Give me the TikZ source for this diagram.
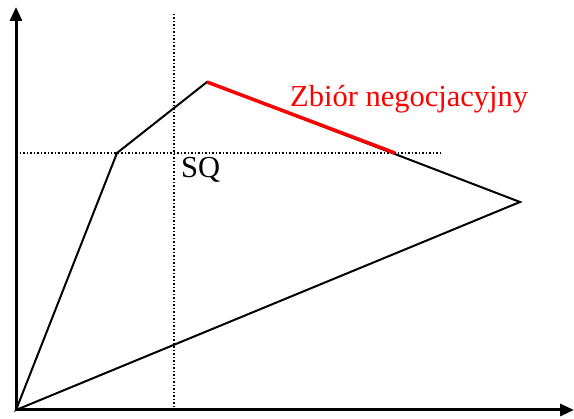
\documentclass[tikz,border=0pt]{standalone}
\usepackage{fontspec}
\setmainfont{Liberation Serif}
\usetikzlibrary{arrows.meta}
\begin{document}
\begin{tikzpicture}[x=1pt,y=-1pt,
  axis/.style={line width=3pt,-{Triangle[length=14pt,width=12pt]}},
  edge/.style={line width=2pt,line join=miter},
  dots/.style={line width=1.5pt,dash pattern=on 1.5pt off 2pt},
  lbl/.style={inner sep=0pt,anchor=base west,font=\fontsize{30.5}{33}\selectfont}]
\useasboundingbox (0,0) rectangle (574,419);
\coordinate (O) at (16,410);
\coordinate (ytop) at (16,7);
\coordinate (xend) at (574,410);
\coordinate (A) at (117,153);
\coordinate (B) at (207,82);
\coordinate (C) at (520,202);
\coordinate (R) at (395,153);
\coordinate (vt) at (174,14);
\coordinate (vb) at (174,410);
\coordinate (hl) at (16,153);
\coordinate (hr) at (441,153);
\draw[dots] (vt) -- (vb);
\draw[dots] (hl) -- (hr);
\draw[edge] (O) -- (A) -- (B) -- (C) -- cycle;
\draw[line width=3.5pt,red] (B) -- (R);
\draw[axis] (O) -- (ytop);
\draw[axis] (O) -- (xend);
\node[lbl] (sq) at (181,178) {SQ};
\node[lbl,red] (zb) at (290,107) {Zbiór negocjacyjny};
\end{tikzpicture}
\end{document}
